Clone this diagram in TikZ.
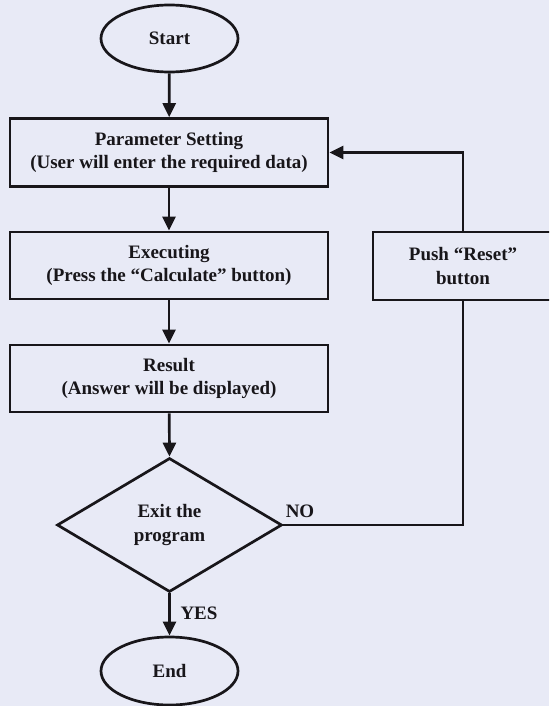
\documentclass[tikz,border=0pt]{standalone}
\usepackage{fontspec}
\setmainfont{Liberation Serif}
\usetikzlibrary{shapes.geometric,arrows.meta}
\definecolor{bgcol}{RGB}{232,234,246}
\definecolor{inkcol}{RGB}{24,22,26}
\tikzset{
  every node/.style={font=\bfseries\fontsize{19}{23.5}\selectfont, text=inkcol, align=center},
  procbox/.style={draw=inkcol, line width=2.7pt, rectangle, inner sep=0pt, minimum width=318pt, minimum height=68pt},
  termnode/.style={draw=inkcol, line width=2.7pt, ellipse, inner sep=0pt, minimum width=137pt, minimum height=67pt},
  decnode/.style={draw=inkcol, line width=2.7pt, diamond, inner sep=0pt, minimum width=225pt, minimum height=134pt},
  flow/.style={draw=inkcol, line width=2.7pt, -{Triangle[length=14pt,width=13pt]}},
  plainline/.style={draw=inkcol, line width=2.7pt},
  lbl/.style={font=\bfseries\fontsize{19}{22}\selectfont}
}
\begin{document}
\begin{tikzpicture}[x=1pt,y=-1pt]
\useasboundingbox (0,0) rectangle (549,706);
\fill[bgcol] (0,0) rectangle (549,706);
\clip (0,0) rectangle (549,706);

\node[termnode] (start) at (169.5,38.5) {Start};
\node[procbox] (param) at (169,152.5) {Parameter Setting\\(User will enter the required data)};
\node[procbox, minimum height=67pt] (exec) at (169,265.5) {Executing\\(Press the “Calculate” button)};
\node[procbox, minimum height=67pt] (result) at (169,378.5) {Result\\(Answer will be displayed)};
\node[decnode] (dec) at (169.5,525) {Exit the\\program};
\node[termnode, minimum height=68pt] (end) at (169.5,671) {End};
\node[procbox, minimum width=180pt, minimum height=68pt] (push) at (463,266) {Push “Reset”\\button};

\node[lbl] (no) at (300,511) {NO};
\node[lbl] (yes) at (199,613) {YES};

\draw[flow] (start) -- (param);
\draw[flow] (param) -- (exec);
\draw[flow] (exec) -- (result);
\draw[flow] (result) -- (dec.north);
\draw[flow] (dec.south) -- (end);
\draw[plainline] (dec.east) -- (dec.east -| push.south) -- (push.south);
\draw[flow] (push.north) |- (param.east);
\end{tikzpicture}
\end{document}
